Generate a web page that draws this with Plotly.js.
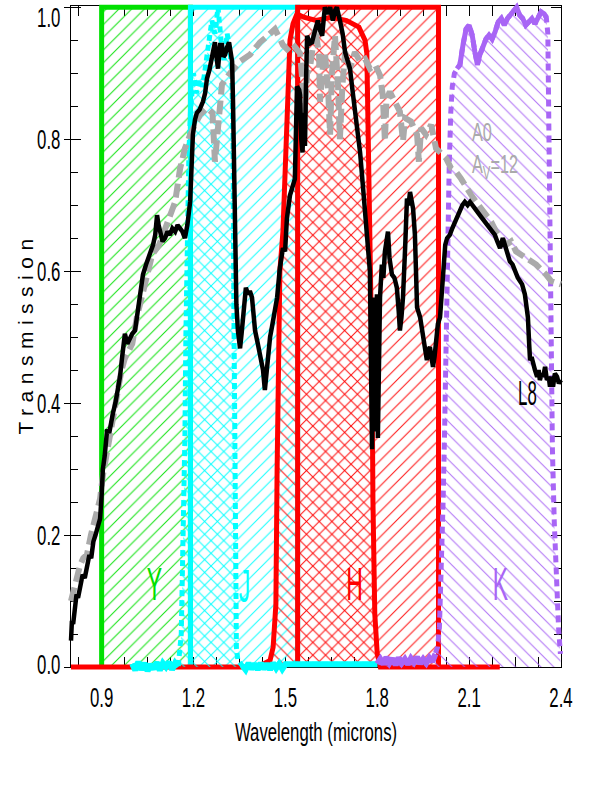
<!DOCTYPE html>
<html>
<head>
<meta charset="utf-8">
<script src="https://cdn.plot.ly/plotly-3.0.1.min.js"></script>
<style>
  body { margin: 0; background: white; }
  #transPlot { width: 591px; height: 786px; }
</style>
</head>
<body>
<div id="transPlot"></div>
<script>
// L8 dwarf spectrum (black line)
const l8Wave = [0.800,0.803,0.807,0.812,0.818,0.823,0.830,0.838,0.845,0.852,0.860,0.866,0.873,0.880,0.888,0.895,
  0.900,0.904,0.910,0.918,0.925,0.932,0.937,0.945,0.953,0.960,0.967,0.972,0.976,0.984,0.993,1.000,1.009,1.017,
  1.025,1.030,1.035,1.045,1.058,1.068,1.075,1.081,1.086,1.091,1.099,1.107,1.115,1.123,1.131,1.140,1.148,1.156,
  1.164,1.172,1.180,1.189,1.198,1.205,1.211,1.220,1.231,1.238,1.244,1.252,1.260,1.270,1.275,1.280,1.287,1.293,
  1.298,1.303,1.310,1.316,1.322,1.326,1.329,1.332,1.335,1.340,1.345,1.352,1.357,1.362,1.371,1.378,1.384,1.391,
  1.396,1.401,1.410,1.417,1.427,1.433,1.438,1.443,1.450,1.456,1.465,1.473,1.482,1.492,1.499,1.505,1.515,1.525,
  1.531,1.535,1.538,1.545,1.548,1.552,1.556,1.560,1.564,1.568,1.571,1.580,1.587,1.597,1.606,1.613,1.620,1.629,
  1.637,1.646,1.655,1.662,1.668,1.678,1.687,1.695,1.703,1.711,1.721,1.734,1.744,1.753,1.760,1.770,1.776,1.779,
  1.783,1.786,1.790,1.793,1.796,1.799,1.802,1.806,1.809,1.815,1.820,1.825,1.830,1.835,1.840,1.848,1.856,1.864,
  1.870,1.874,1.879,1.884,1.891,1.897,1.902,1.907,1.913,1.917,1.923,1.930,1.940,1.949,1.955,1.962,1.967,1.972,
  1.977,1.982,1.987,1.992,1.998,2.005,2.010,2.015,2.022,2.028,2.037,2.045,2.054,2.062,2.070,2.078,2.086,2.095,
  2.103,2.110,2.119,2.127,2.135,2.143,2.152,2.160,2.168,2.176,2.184,2.192,2.201,2.210,2.217,2.224,2.233,2.242,
  2.250,2.259,2.266,2.273,2.282,2.288,2.292,2.296,2.299,2.304,2.308,2.315,2.322,2.327,2.331,2.337,2.342,2.348,
  2.354,2.360,2.364,2.370,2.374,2.380,2.387,2.393,2.400];
const l8Trans = [0.040,0.070,0.065,0.095,0.110,0.105,0.125,0.140,0.135,0.150,0.170,0.165,0.190,0.200,0.215,0.225,
  0.260,0.300,0.320,0.360,0.355,0.375,0.385,0.400,0.420,0.440,0.470,0.490,0.505,0.490,0.500,0.505,0.510,0.540,
  0.560,0.575,0.595,0.610,0.625,0.640,0.655,0.685,0.670,0.660,0.645,0.650,0.660,0.655,0.665,0.660,0.670,0.665,
  0.660,0.650,0.670,0.705,0.807,0.830,0.840,0.845,0.857,0.870,0.892,0.905,0.922,0.947,0.925,0.907,0.943,0.943,
  0.925,0.928,0.940,0.947,0.930,0.918,0.857,0.750,0.630,0.550,0.510,0.483,0.505,0.535,0.575,0.565,0.570,0.560,
  0.540,0.510,0.490,0.475,0.450,0.420,0.445,0.475,0.500,0.515,0.540,0.560,0.605,0.635,0.630,0.680,0.715,0.730,
  0.740,0.820,0.880,0.875,0.867,0.800,0.780,0.840,0.790,0.900,0.957,0.945,0.947,0.965,0.980,0.965,0.957,1.000,
  0.990,1.000,0.980,0.995,1.000,0.980,0.960,0.932,0.920,0.907,0.867,0.820,0.780,0.730,0.685,0.630,0.600,0.480,
  0.330,0.560,0.420,0.357,0.530,0.565,0.347,0.500,0.560,0.610,0.590,0.630,0.650,0.660,0.620,0.595,0.590,0.575,
  0.540,0.510,0.530,0.560,0.635,0.710,0.700,0.720,0.705,0.695,0.655,0.545,0.530,0.505,0.480,0.465,0.480,0.485,
  0.470,0.455,0.470,0.495,0.520,0.530,0.570,0.610,0.640,0.650,0.655,0.665,0.675,0.685,0.695,0.700,0.705,0.700,
  0.705,0.700,0.695,0.690,0.685,0.680,0.675,0.670,0.665,0.660,0.655,0.645,0.635,0.650,0.640,0.630,0.615,0.610,
  0.600,0.590,0.585,0.580,0.565,0.545,0.530,0.490,0.465,0.470,0.460,0.450,0.440,0.450,0.435,0.445,0.440,0.455,
  0.435,0.440,0.425,0.440,0.425,0.445,0.440,0.430,0.435];

// A0 star seen through Av=12 (gray dashed line)
const a0Wave = [0.800,0.810,0.820,0.830,0.840,0.852,0.865,0.880,0.895,0.904,0.915,0.928,0.940,0.953,0.965,0.976,
  0.990,1.000,1.015,1.025,1.045,1.065,1.088,1.110,1.140,1.156,1.172,1.189,1.205,1.221,1.244,1.262,1.270,1.278,
  1.293,1.319,1.352,1.384,1.417,1.443,1.466,1.492,1.515,1.531,1.548,1.564,1.571,1.580,1.597,1.610,1.613,1.620,
  1.629,1.640,1.646,1.652,1.662,1.672,1.678,1.686,1.695,1.711,1.727,1.744,1.760,1.776,1.793,1.809,1.818,1.825,
  1.830,1.841,1.858,1.874,1.884,1.891,1.910,1.930,1.936,1.943,1.959,1.976,1.992,2.008,2.025,2.041,2.057,2.074,
  2.090,2.106,2.123,2.139,2.155,2.172,2.188,2.221,2.237,2.253,2.286,2.319,2.351,2.368,2.400];
const a0Trans = [0.100,0.120,0.140,0.155,0.165,0.170,0.200,0.230,0.255,0.290,0.320,0.355,0.390,0.418,0.450,0.468,
  0.480,0.490,0.530,0.550,0.585,0.625,0.640,0.665,0.705,0.755,0.786,0.807,0.822,0.837,0.847,0.840,0.766,0.800,
  0.883,0.900,0.918,0.928,0.947,0.957,0.967,0.943,0.932,0.940,0.930,0.840,0.900,0.907,0.967,0.930,0.857,0.900,
  0.932,0.870,0.807,0.900,0.957,0.880,0.800,0.880,0.932,0.907,0.932,0.918,0.922,0.907,0.913,0.897,0.867,0.797,
  0.860,0.872,0.857,0.842,0.797,0.832,0.827,0.807,0.766,0.817,0.807,0.822,0.786,0.777,0.771,0.756,0.751,0.740,
  0.726,0.716,0.705,0.695,0.685,0.675,0.660,0.640,0.645,0.630,0.620,0.610,0.595,0.585,0.580];

// J filter curve (cyan dotted)
const jWave = [1.000,1.010,1.020,1.030,1.040,1.050,1.060,1.070,1.080,1.090,1.100,1.110,1.120,1.130,1.140,1.150,
  1.160,1.168,1.172,1.175,1.178,1.181,1.185,1.190,1.195,1.200,1.210,1.220,1.230,1.240,1.250,1.260,1.270,1.280,
  1.290,1.300,1.310,1.320,1.325,1.329,1.331,1.333,1.335,1.337,1.340,1.345,1.360,1.370,1.380,1.390,1.400,1.410,
  1.420,1.430,1.440,1.450,1.460,1.470,1.480,1.490,1.500,1.520,1.560,1.600,1.650,1.700,1.750,1.800];
const jTrans = [0.005,-0.005,0.008,-0.004,0.006,-0.006,0.004,-0.003,0.007,-0.005,0.006,0.000,0.008,-0.004,0.006,0.000,
  0.050,0.200,0.350,0.500,0.600,0.680,0.780,0.840,0.880,0.900,0.870,0.890,0.880,0.910,0.940,0.980,0.960,1.000,
  0.950,0.920,0.960,0.930,0.900,0.800,0.600,0.400,0.250,0.100,0.030,0.010,0.002,-0.004,0.006,-0.003,0.005,-0.004,
  0.006,-0.003,0.005,-0.004,0.006,-0.002,0.005,-0.003,0.004,0.004,0.004,0.004,0.004,0.004,0.004,0.004];

// H filter curve (red solid)
const hWave = [0.800,1.400,1.430,1.450,1.460,1.469,1.473,1.479,1.482,1.492,1.505,1.515,1.525,1.538,1.560,1.600,
  1.650,1.700,1.740,1.760,1.766,1.775,1.783,1.786,1.792,1.800,1.810,2.200];
const hTrans = [0.000,0.000,0.005,0.010,0.030,0.095,0.300,0.450,0.600,0.660,0.850,0.950,0.975,0.990,0.985,0.980,
  0.985,0.980,0.970,0.950,0.930,0.700,0.450,0.250,0.080,0.020,0.000,0.000];

// K filter curve (purple dotted)
const kWave = [1.800,1.810,1.820,1.830,1.840,1.850,1.860,1.870,1.880,1.890,1.900,1.910,1.920,1.930,1.940,1.950,
  1.960,1.970,1.980,1.990,1.997,2.003,2.010,2.015,2.020,2.025,2.030,2.035,2.040,2.045,2.052,2.060,2.070,2.080,
  2.090,2.100,2.110,2.119,2.127,2.135,2.145,2.155,2.165,2.175,2.185,2.195,2.205,2.215,2.225,2.235,2.245,2.255,
  2.265,2.275,2.285,2.295,2.305,2.315,2.325,2.335,2.345,2.352,2.357,2.360,2.363,2.367,2.372,2.378,2.385,2.392,2.398];
const kTrans = [0.005,0.012,0.004,0.015,0.006,0.013,0.003,0.014,0.006,0.012,0.004,0.013,0.007,0.015,0.005,0.012,
  0.006,0.014,0.008,0.020,0.030,0.060,0.150,0.250,0.360,0.520,0.660,0.760,0.840,0.880,0.900,0.907,0.913,0.943,
  0.967,0.973,0.958,0.932,0.913,0.928,0.943,0.952,0.958,0.952,0.963,0.978,0.983,0.973,0.983,0.988,0.993,1.000,
  0.988,0.983,0.973,0.978,0.983,0.975,0.985,0.993,0.990,0.985,0.960,0.800,0.650,0.500,0.330,0.220,0.120,0.060,0.020];

// Band boxes
const boxNames = ['Y', 'J', 'H'];
const boxLo = [0.90, 1.19, 1.54];
const boxHi = [1.19, 1.54, 2.00];

const GREEN = '#00e000';
const CYAN = '#00ffff';
const RED = '#ff0000';
const PURPLE = '#a865f5';
const GRAY = '#aaaaaa';
const boxColors = [GREEN, CYAN, RED];

function hatch(shape, color) {
    return {shape: shape, fgcolor: color, bgcolor: 'rgba(0,0,0,0)', size: 9, solidity: 0.12, fgopacity: 0.9};
}

let traces = [];

// boxes with "/" hatching, bottom edge left open
for (let i = 0; i < boxNames.length; i++) {
    traces.push({
        x: [boxLo[i], boxLo[i], boxHi[i], boxHi[i]],
        y: [0, 1, 1, 0],
        mode: 'lines', line: {color: boxColors[i], width: 5},
        fill: 'toself', fillcolor: 'rgba(0,0,0,0)',
        fillpattern: hatch('/', boxColors[i])
    });
}

// H filter
traces.push({
    x: hWave, y: hTrans, mode: 'lines',
    line: {color: RED, width: 5},
    fill: 'tozeroy', fillcolor: 'rgba(0,0,0,0)', fillpattern: hatch('\\', RED)
});

// J filter, dotted, with solid noisy floor
traces.push({
    x: jWave, y: jTrans, mode: 'lines',
    line: {color: CYAN, width: 5, dash: '6px,4px'},
    fill: 'tozeroy', fillcolor: 'rgba(0,0,0,0)', fillpattern: hatch('\\', CYAN)
});
traces.push({
    x: jWave,
    y: jTrans.map((v, i) => (jWave[i] <= 1.15 || jWave[i] >= 1.36) ? v : null),
    mode: 'lines', line: {color: CYAN, width: 6}
});

// K filter, dotted, noisy floor and top drawn solid
traces.push({
    x: kWave, y: kTrans, mode: 'lines',
    line: {color: PURPLE, width: 5, dash: '7px,5px'},
    fill: 'tozeroy', fillcolor: 'rgba(0,0,0,0)', fillpattern: hatch('\\', PURPLE)
});
traces.push({
    x: kWave,
    y: kTrans.map((v, i) => (kWave[i] <= 1.99) ? v : null),
    mode: 'lines', line: {color: PURPLE, width: 6}
});
traces.push({
    x: kWave,
    y: kTrans.map((v, i) => (kWave[i] >= 2.06 && kWave[i] <= 2.352) ? v : null),
    mode: 'lines', line: {color: PURPLE, width: 5}
});

// A0 and L8 spectra
traces.push({
    x: a0Wave, y: a0Trans, mode: 'lines',
    line: {color: GRAY, width: 6, dash: '14px,6px'}
});
traces.push({
    x: l8Wave, y: l8Trans, mode: 'lines',
    line: {color: 'black', width: 4.5}
});

// empty trace that carries the second y axis (outer tick stubs on the left)
traces.push({x: [0.8], y: [null], yaxis: 'y2', mode: 'lines', hoverinfo: 'skip'});

const SANS = 'Liberation Sans, Arial, sans-serif';

let axisStyle = {
    showline: true, linecolor: 'black', linewidth: 1,
    mirror: 'allticks', ticks: 'inside', ticklen: 10, tickcolor: 'black',
    showgrid: false, zeroline: false, layer: 'below traces',
    ticklabeloverflow: 'allow',
    tickfont: {family: SANS, size: 28, color: 'black'}
};

let layout = {
    width: 591, height: 786,
    margin: {l: 71, r: 30, t: 6, b: 119},
    paper_bgcolor: 'white', plot_bgcolor: 'white',
    showlegend: false,
    xaxis: Object.assign({}, axisStyle, {
        range: [0.8, 2.4], tick0: 0.9, dtick: 0.3, tickformat: '.1f',
        minor: {ticks: 'inside', ticklen: 6, tick0: 0.9, dtick: 0.075, tickcolor: 'black', showgrid: false},
        ticklabelstandoff: 5,
        title: {text: 'Wavelength (microns)', font: {family: SANS, size: 25, color: 'black'}, standoff: 11}
    }),
    yaxis: Object.assign({}, axisStyle, {
        range: [0, 1.002], dtick: 0.2, tickformat: '.1f',
        minor: {ticks: 'inside', ticklen: 7, dtick: 0.05, tickcolor: 'black', showgrid: false},
        ticklabelstandoff: 4
    }),
    yaxis2: {
        overlaying: 'y', side: 'left', range: [0, 1.002], dtick: 0.2,
        ticks: 'outside', ticklen: 6, tickcolor: 'black',
        showticklabels: false, showline: false, showgrid: false, zeroline: false
    },
    annotations: [
        // 0: axis title on the left
        {x: 0, y: 0.5, xref: 'paper', yref: 'paper', xanchor: 'center', yanchor: 'middle',
         xshift: -46, yshift: 3, textangle: -90,
         showarrow: false, text: 'Transmission', font: {family: SANS, size: 21, color: 'black'}},
        // 1-4: band letters
        {x: 1.074, y: 0.126, text: 'Y', font: {family: SANS, size: 46, color: GREEN}},
        {x: 1.368, y: 0.123, text: 'J', font: {family: SANS, size: 46, color: CYAN}},
        {x: 1.727, y: 0.126, text: 'H', font: {family: SANS, size: 46, color: RED}},
        {x: 2.201, y: 0.126, text: 'K', font: {family: SANS, size: 46, color: PURPLE}},
        // 5-6: spectrum labels
        {x: 2.103, y: 0.783, xanchor: 'left', align: 'left', text: 'A0<br>A<sub>V</sub>=12',
         font: {family: SANS, size: 25, color: GRAY}},
        {x: 2.292, y: 0.416, text: 'L8', font: {family: SANS, size: 35, color: 'black'}}
    ].map(a => Object.assign({xref: 'x', yref: 'y', showarrow: false}, a))
};

// squeeze texts sideways around their anchor, the original lettering is very narrow
function squeeze(elements, factor) {
    elements.forEach(function (el) {
        let x = parseFloat(el.getAttribute('x')) || 0;
        let t = el.getAttribute('transform') || '';
        el.setAttribute('transform', t + ' translate(' + x + ',0) scale(' + factor + ',1) translate(' + (-x) + ',0)');
    });
}

Plotly.newPlot('transPlot', traces, layout, {staticPlot: true}).then(function (gd) {
    // let the thick lines run over the frame, as in the original figure
    gd.querySelectorAll('.cartesianlayer [clip-path]').forEach(function (el) {
        el.removeAttribute('clip-path');
    });
    squeeze(gd.querySelectorAll('.xtick text, .ytick text'), 0.6);
    squeeze(gd.querySelectorAll('text.xtitle'), 0.67);
    // the top label sits inside the frame in the original
    gd.querySelectorAll('.ytick text').forEach(function (el) {
        if (el.textContent === '1.0') {
            el.setAttribute('transform', 'translate(0,10) ' + (el.getAttribute('transform') || ''));
        } else if (el.textContent === '0.0') {
            el.setAttribute('transform', 'translate(0,-3) ' + (el.getAttribute('transform') || ''));
        }
    });
    let notes = gd.querySelectorAll('.annotation');
    notes.forEach(function (g) {
        let idx = parseInt(g.getAttribute('data-index'));
        let txt = g.querySelectorAll('text');
        if (idx === 0) {
            txt.forEach(function (el) { el.style.letterSpacing = '6.5px'; });
        } else if (idx <= 4) {
            squeeze(txt, 0.5);
        } else if (idx === 5) {
            squeeze(txt, 0.65);
        } else {
            squeeze(txt, 0.48);
        }
    });
});
</script>
</body>
</html>
